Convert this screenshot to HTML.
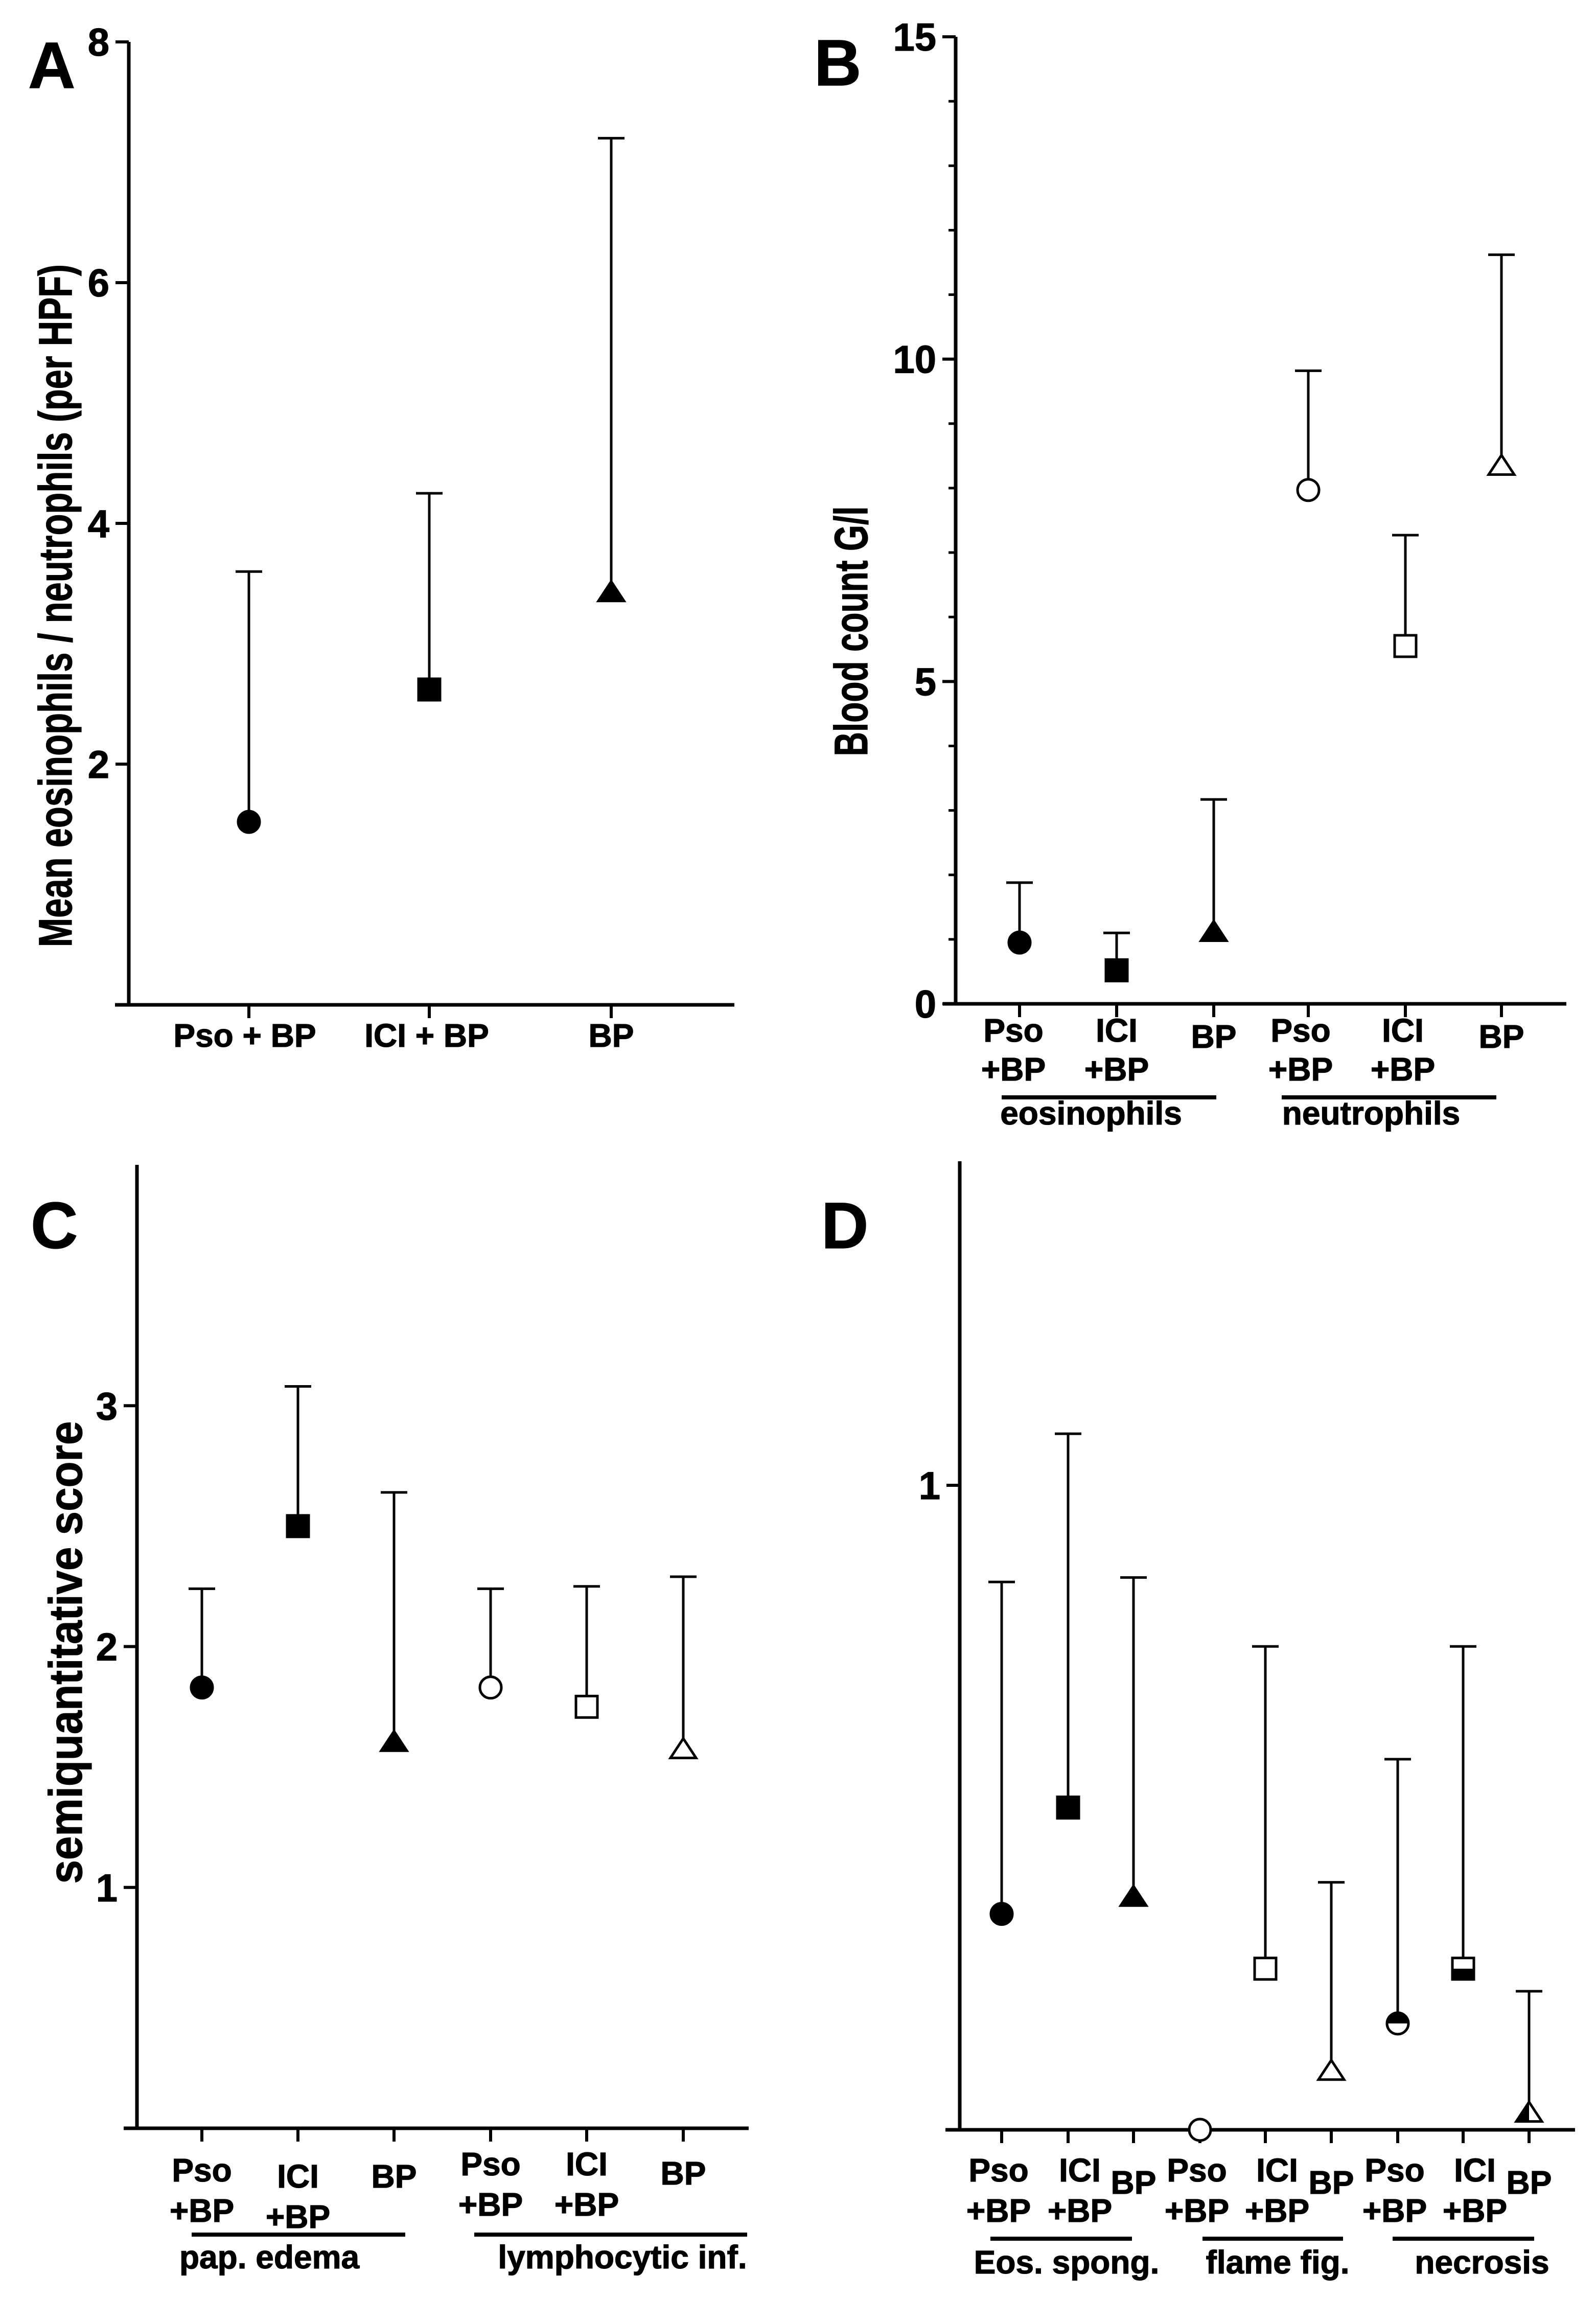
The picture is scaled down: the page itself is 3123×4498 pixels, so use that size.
<!DOCTYPE html>
<html><head><meta charset="utf-8">
<style>
html,body{margin:0;padding:0;background:#fff;}
svg{display:block;}
text{font-family:"Liberation Sans",Arial,sans-serif;font-weight:bold;fill:#000;stroke:#000;stroke-width:1.2;}
</style></head>
<body>
<svg id="fig" width="3123" height="4498" viewBox="0 0 3123 4498" xmlns="http://www.w3.org/2000/svg">
<rect width="3123" height="4498" fill="#fff"/>
</svg>
<script>
// Panel A data
const aCategories = ["Pso + BP", "ICI + BP", "BP"];
const aMeans = [1.52, 2.62, 3.42];
const aUpper = [3.6, 4.25, 7.2];
const aTicks = [2, 4, 6, 8];
// Panel B data
const bCategories = ["Pso|+BP", "ICI|+BP", "BP", "Pso|+BP", "ICI|+BP", "BP"];
const bMeans = [0.95, 0.52, 1.1, 7.97, 5.55, 8.33];
const bUpper = [1.88, 1.1, 3.17, 9.82, 7.27, 11.62];
const bTicks = [0, 5, 10, 15];
const bGroups = ["eosinophils", "neutrophils"];
// Panel C data
const cCategories = ["Pso|+BP", "ICI|+BP", "BP", "Pso|+BP", "ICI|+BP", "BP"];
const cMeans = [1.83, 2.5, 1.6, 1.83, 1.75, 1.57];
const cUpper = [2.24, 3.08, 2.64, 2.24, 2.25, 2.29];
const cTicks = [1, 2, 3];
const cGroups = ["pap. edema", "lymphocytic inf."];
// Panel D data
const dCategories = ["Pso|+BP", "ICI|+BP", "BP", "Pso|+BP", "ICI|+BP", "BP", "Pso|+BP", "ICI|+BP", "BP"];
const dMeans = [0.335, 0.5, 0.36, 0, 0.25, 0.09, 0.165, 0.25, 0.025];
const dUpper = [0.85, 1.08, 0.857, 0, 0.75, 0.384, 0.575, 0.75, 0.215];
const dTicks = [1];
const dGroups = ["Eos. spong.", "flame fig.", "necrosis"];

const NS = "http://www.w3.org/2000/svg";
const svg = document.getElementById("fig");
function mk(tag, attrs, parent) {
  const e = document.createElementNS(NS, tag);
  for (const k in attrs) e.setAttribute(k, attrs[k]);
  (parent || svg).appendChild(e);
  return e;
}
function line(g, x1, y1, x2, y2, w) {
  return mk("line", {x1, y1, x2, y2, stroke: "#000", "stroke-width": w}, g);
}
function txt(g, s, x, y, size, anchor) {
  const t = mk("text", {x, y, "font-size": size, "text-anchor": anchor || "middle"}, g);
  t.textContent = s;
  return t;
}

function marker(g, shape, fill, x, y, name) {
  const r = 23;
  const mg = mk("g", {}, g);
  
  
  const fc = fill === "filled" ? "#000" : "#fff";
  if (shape === "circle") {
    mk("circle", {cx: x, cy: y, r: r - 2, fill: fc, stroke: "#000", "stroke-width": 5}, mg);
    if (fill === "half") mk("path", {d: `M${x - r + 2},${y} A${r - 2},${r - 2} 0 0 1 ${x + r - 2},${y} Z`, fill: "#000"}, mg);
  } else if (shape === "square") {
    mk("rect", {x: x - r + 2, y: y - r + 2, width: 2 * r - 4, height: 2 * r - 4, fill: fc, stroke: "#000", "stroke-width": 5}, mg);
    if (fill === "half") mk("rect", {x: x - r + 2, y: y, width: 2 * r - 4, height: r - 2, fill: "#000"}, mg);
  } else {
    const h = 38;
    const pts = `${x},${y - h * 0.6} ${x - 25},${y + h * 0.4} ${x + 25},${y + h * 0.4}`;
    mk("polygon", {points: pts, fill: fc, stroke: "#000", "stroke-width": 5, "stroke-linejoin": "miter"}, mg);
    if (fill === "half") mk("polygon", {points: `${x},${y - h * 0.6} ${x - 25},${y + h * 0.4} ${x},${y + h * 0.4}`, fill: "#000"}, mg);
  }
}

function panel(cfg) {
  const g = mk("g", {});
  
  
  const yS = v => cfg.y0 - (v - cfg.vmin) * (cfg.y0 - cfg.yTopVal) / (cfg.vmaxTick - cfg.vmin);
  const xS = i => cfg.xs[i];
  const ya = line(g, cfg.ax, cfg.axTop, cfg.ax, cfg.y0 + 3, 7);
  
  
  const xa = line(g, cfg.xaL, cfg.y0, cfg.xaR, cfg.y0, 7);
  
  
  if (cfg.minor) {
    for (let v = cfg.vmin; v <= cfg.minorMax; v += cfg.minor) {
      line(g, cfg.ax - 14, yS(v), cfg.ax, yS(v), 5);
    }
  }
  cfg.ticks.forEach(v => {
    line(g, cfg.ax - 26, yS(v), cfg.ax, yS(v), 6);
    const t = txt(g, String(v), cfg.ax - 38, yS(v) + 27, 76, "end");
    
    
  });
  if (cfg.title) {
    const yt = mk("text", {x: 0, y: 0, "font-size": cfg.titleSize, "text-anchor": "middle",
      textLength: cfg.titleLen, lengthAdjust: "spacingAndGlyphs",
      transform: `translate(${cfg.titleX},${cfg.titleY}) rotate(-90)`}, g);
    yt.textContent = cfg.title;
    
    
  }
  const pl = txt(g, cfg.letter, cfg.letterX, cfg.letterY, 128, "start");
  
  
  cfg.categories.forEach((c, i) => {
    line(g, xS(i), cfg.y0, xS(i), cfg.y0 + 26, 6);
    const parts = c.split("|");
    const dy = (cfg.labelDy && cfg.labelDy[i]) || 0;
    const dx = (cfg.labelDx && cfg.labelDx[i]) || 0;
    const lg = mk("g", {}, g);
    
    
    if (parts.length === 1) {
      txt(lg, parts[0], xS(i) + dx, cfg.row1 + dy + (cfg.single ? 0 : 12), 64);
    } else {
      txt(lg, parts[0], xS(i) + dx, cfg.row1 + dy, 64);
      txt(lg, parts[1], xS(i) + dx, cfg.row2 + dy, 64);
    }
  });
  (cfg.groups || []).forEach((gName, k) => {
    const gl = line(g, cfg.groupLines[k][0], cfg.groupY, cfg.groupLines[k][1], cfg.groupY, 8);
    
    
    const gt = txt(g, gName, cfg.groupLabelX[k], cfg.groupLabelY, 64);
    
    
  });
  cfg.means.forEach((m, i) => {
    const up = cfg.upper[i];
    if (up > m) {
      const eb = mk("g", {}, g);
      
      
      line(eb, xS(i), yS(m), xS(i), yS(up), 5);
      line(eb, xS(i) - 26, yS(up), xS(i) + 26, yS(up), 5);
    }
    marker(g, cfg.shapes[i], cfg.fills[i], xS(i), yS(m), 'mean-marker');
  });
}

panel({name: "panel-a", letter: "A", letterX: 55, letterY: 172,
  categories: aCategories, means: aMeans, upper: aUpper, ticks: aTicks,
  shapes: ["circle", "square", "triangle"], fills: ["filled", "filled", "filled"],
  xs: [487, 840, 1196], ax: 252, axTop: 82, y0: 1966, yTopVal: 82, vmin: 0, vmaxTick: 8,
  xaL: 225, xaR: 1437, row1: 2048, row2: 2048, single: true, labelDx: [-8, -5, 0],
  title: "Mean eosinophils / neutrophils (per HPF)", titleX: 140, titleY: 1185, titleSize: 92, titleLen: 1336});

panel({name: "panel-b", letter: "B", letterX: 1593, letterY: 167,
  categories: bCategories, means: bMeans, upper: bUpper, ticks: bTicks,
  shapes: ["circle", "square", "triangle", "circle", "square", "triangle"],
  fills: ["filled", "filled", "filled", "open", "open", "open"],
  xs: [1995, 2185, 2375, 2560, 2750, 2938], ax: 1870, axTop: 72, y0: 1964, yTopVal: 72, vmin: 0, vmaxTick: 15,
  minor: 1, minorMax: 15,
  xaL: 1845, xaR: 3065, row1: 2038, row2: 2114, labelDx: [-12, 0, 0, -15, -5, 0],
  groups: bGroups, groupLines: [[1960, 2380], [2508, 2928]], groupY: 2147, groupLabelX: [2135, 2683], groupLabelY: 2200,
  title: "Blood count G/l", titleX: 1697, titleY: 1235, titleSize: 92, titleLen: 489});

panel({name: "panel-c", letter: "C", letterX: 60, letterY: 2442,
  categories: cCategories, means: cMeans, upper: cUpper, ticks: cTicks,
  shapes: ["circle", "square", "triangle", "circle", "square", "triangle"],
  fills: ["filled", "filled", "filled", "open", "open", "open"],
  xs: [395, 583, 771, 960, 1148, 1337], ax: 268, axTop: 2279, y0: 4164, yTopVal: 2279, vmin: 0, vmaxTick: 4,
  xaL: 242, xaR: 1465, row1: 4268, row2: 4347, labelDy: [0, 12, 0, -12, -12, -6],
  groups: cGroups, groupLines: [[375, 793], [928, 1462]], groupY: 4372, groupLabelX: [527, 1218], groupLabelY: 4438,
  title: "semiquantitative score", titleX: 160, titleY: 3233, titleSize: 92, titleLen: 905});

panel({name: "panel-d", letter: "D", letterX: 1607, letterY: 2442,
  categories: dCategories, means: dMeans, upper: dUpper, ticks: dTicks,
  shapes: ["circle", "square", "triangle", "circle", "square", "triangle", "circle", "square", "triangle"],
  fills: ["filled", "filled", "filled", "open", "open", "open", "half", "half", "half"],
  xs: [1960, 2090, 2218, 2348, 2476, 2605, 2735, 2863, 2992], ax: 1878, axTop: 2272, y0: 4167, yTopVal: 2906, vmin: 0, vmaxTick: 1,
  xaL: 1850, xaR: 3082, row1: 4268, row2: 4347, labelDy: [0, 0, 12, 0, 0, 12, 0, 0, 12],
  labelDx: [-6, 23, 0, -6, 23, 0, -6, 23, 0],
  groups: dGroups, groupLines: [[1938, 2215], [2353, 2628], [2725, 3002]], groupY: 4380, groupLabelX: [2087, 2500, 2900], groupLabelY: 4448,
  title: "", titleX: 0, titleY: 0, titleSize: 10, titleLen: 1});
</script>
</body></html>
